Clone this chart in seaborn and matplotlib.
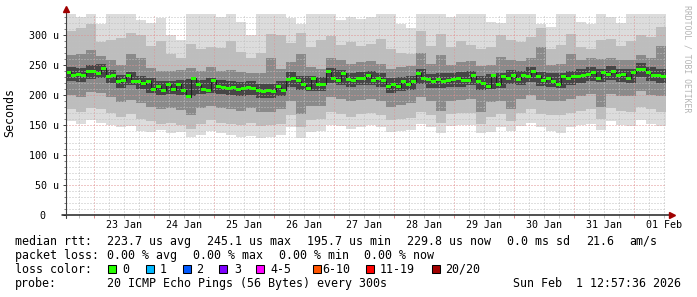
import numpy as np
import pandas as pd
import matplotlib
matplotlib.use("Agg")
import matplotlib.pyplot as plt
import matplotlib.dates as mdates
from matplotlib.patches import Rectangle
from matplotlib.transforms import ScaledTranslation, blended_transform_factory
import seaborn as sns

# ---------------- data ----------------
start_time = "2026-01-22 12:57:36"
end_time = "2026-02-01 12:57:36"
median_step_hours = 2
smoke_step_hours = 4

# median rtt (microseconds), one value per 2 h
median_us = [
    238, 233, 234, 233, 239, 239, 236, 245, 231, 232,
    222, 225, 233, 222, 223, 219, 223, 210, 215, 208,
    217, 209, 218, 208, 197, 228, 217, 209, 208, 225,
    214, 213, 211, 212, 209, 211, 213, 211, 208, 206,
    208, 206, 214, 208, 226, 228, 224, 217, 211, 228,
    218, 218, 239, 228, 224, 236, 226, 225, 228, 228,
    233, 225, 228, 224, 214, 218, 214, 222, 218, 223,
    236, 228, 226, 223, 226, 223, 224, 226, 228, 225,
    225, 232, 222, 219, 214, 232, 218, 231, 228, 233,
    226, 233, 231, 239, 231, 224, 228, 222, 218, 231,
    228, 231, 231, 233, 235, 237, 228, 238, 235, 239,
    232, 235, 228, 237, 243, 243, 237, 233, 233, 231,
]

# smoke bands (microseconds), one value per 4 h; 1 = outermost/lightest
smoke_hi1 = [336, 330, 336, 318, 336, 336, 336, 325, 320, 328, 300, 292, 336, 336, 336,
             330, 336, 322, 300, 336, 336, 336, 328, 318, 336, 336, 336, 325, 330, 326,
             330, 336, 336, 318, 312, 336, 336, 336, 330, 336, 336, 336, 322, 320, 336,
             336, 336, 318, 314, 336, 336, 322, 318, 336, 330, 320, 336, 336, 336, 336]
smoke_hi2 = [306, 312, 318, 288, 292, 295, 304, 300, 282, 290, 268, 262, 285, 276, 280,
             278, 290, 272, 262, 270, 302, 300, 286, 304, 280, 292, 298, 284, 288, 282,
             285, 294, 276, 270, 268, 306, 282, 302, 280, 290, 284, 276, 280, 300, 292,
             288, 296, 312, 276, 284, 302, 280, 276, 292, 294, 282, 290, 300, 296, 314]
smoke_hi3 = [266, 268, 275, 265, 258, 250, 268, 262, 245, 240, 240, 242, 245, 240, 246,
             240, 242, 238, 236, 236, 262, 244, 255, 268, 246, 244, 262, 258, 252, 255,
             256, 252, 244, 246, 248, 270, 252, 266, 250, 255, 256, 248, 250, 264, 258,
             256, 262, 280, 250, 252, 268, 258, 262, 260, 262, 258, 258, 266, 262, 282]
smoke_hi4 = [246, 245, 250, 252, 242, 234, 238, 232, 228, 224, 224, 225, 226, 225, 228,
             225, 223, 222, 224, 219, 219, 223, 238, 232, 231, 230, 245, 241, 236, 239,
             240, 237, 228, 230, 232, 243, 235, 236, 236, 238, 240, 232, 235, 236, 241,
             240, 246, 238, 236, 236, 240, 243, 247, 244, 248, 244, 244, 253, 246, 243]
smoke_lo4 = [224, 222, 227, 228, 220, 212, 216, 210, 204, 200, 201, 200, 198, 201, 204,
             201, 200, 198, 200, 195, 195, 199, 214, 208, 207, 206, 220, 217, 213, 216,
             217, 214, 204, 206, 208, 219, 212, 212, 213, 214, 216, 208, 210, 212, 218,
             217, 222, 215, 213, 212, 217, 220, 224, 221, 225, 221, 220, 230, 223, 220]
smoke_lo3 = [200, 196, 205, 204, 196, 188, 192, 186, 180, 176, 178, 175, 166, 178, 182,
             178, 176, 174, 178, 172, 172, 176, 190, 168, 182, 182, 196, 194, 190, 192,
             194, 190, 180, 184, 186, 196, 190, 174, 190, 192, 194, 172, 188, 190, 176,
             194, 200, 192, 190, 190, 194, 198, 202, 180, 202, 198, 198, 206, 200, 198]
smoke_lo2 = [176, 172, 178, 176, 170, 164, 168, 160, 156, 152, 154, 150, 144, 152, 158,
             154, 152, 150, 154, 148, 150, 152, 166, 146, 158, 160, 172, 168, 164, 168,
             170, 166, 158, 160, 162, 172, 166, 154, 168, 170, 170, 152, 164, 168, 156,
             170, 176, 168, 166, 166, 170, 174, 176, 160, 178, 174, 172, 180, 176, 172]
smoke_lo1 = [156, 152, 158, 154, 150, 146, 148, 140, 138, 142, 136, 138, 130, 134, 140,
             136, 134, 130, 132, 128, 130, 134, 146, 128, 138, 140, 150, 148, 144, 146,
             150, 146, 138, 140, 142, 152, 146, 136, 148, 150, 150, 136, 138, 146, 140,
             148, 154, 146, 140, 136, 146, 150, 152, 142, 156, 150, 148, 158, 152, 148]

y_tick_values = [0, 50, 100, 150, 200, 250, 300]
y_tick_labels = ["0", "50 u", "100 u", "150 u", "200 u", "250 u", "300 u"]

rtt_stats = [223.7, 245.1, 195.7, 229.8]        # avg, max, min, now (us)
rtt_sd_ms = 0.0
rtt_ams = 21.6
loss_stats = [0.00, 0.00, 0.00, 0.00]           # avg, max, min, now (%)
loss_labels = ["0", "1", "2", "3", "4-5", "6-10", "11-19", "20/20"]
loss_colors = ["#26ff00", "#00b8ff", "#0059ff", "#7e00ff", "#ff00ff", "#ff5500", "#ff0000", "#a10000"]
probe_text = "20 ICMP Echo Pings (56 Bytes) every 300s"
stamp_text = "Sun Feb  1 12:57:36 2026"

# ---------------- figure ----------------
sns.set_theme(style="white")
plt.rcParams["font.family"] = ["DejaVu Sans Mono", "DejaVu Sans"]

W, H = 697, 297
fig = plt.figure(figsize=(W / 100, H / 100), dpi=100)
fig.patch.set_facecolor("white")
ax = fig.add_axes([66 / W, (H - 215) / H, 600 / W, 201 / H])
ax.set_facecolor("white")

t0 = pd.Timestamp(start_time)
t1 = pd.Timestamp(end_time)
x0 = mdates.date2num(t0)
x1 = mdates.date2num(t1)

# smoke
n_s = len(smoke_hi1)
xs = x0 + np.arange(n_s + 1) * smoke_step_hours / 24.0
def ext(a):
    a = np.asarray(a, float)
    return np.append(a, a[-1])

shades = ["#dcdcdc", "#bdbdbd", "#8a8a8a", "#464646"]
for lo, hi, col in [(smoke_lo1, smoke_hi1, shades[0]),
                    (smoke_lo2, smoke_hi2, shades[1]),
                    (smoke_lo3, smoke_hi3, shades[2]),
                    (smoke_lo4, smoke_hi4, shades[3])]:
    ax.fill_between(xs, ext(lo), ext(hi), step="post", color=col, lw=0, zorder=1)

# median
n_m = len(median_us)
xm = x0 + np.arange(n_m + 1) * median_step_hours / 24.0
med = ext(median_us)
med_df = pd.DataFrame({"t": xm, "rtt": med})
sns.lineplot(data=med_df, x="t", y="rtt", drawstyle="steps-post", color="#202020",
             lw=0.8, ax=ax, zorder=3, estimator=None)
ax.fill_between(xm, med - 2.5, med + 2.5, step="post", color=loss_colors[0], lw=0, zorder=4)

ax.set_xlim(x0, x1)
ax.set_ylim(0, 335)
ax.set_xlabel("")
ax.set_ylabel("")

# grid
midnights = pd.date_range("2026-01-23", "2026-02-01", freq="D")
six_h = pd.date_range("2026-01-22 18:00", "2026-02-01 12:00", freq="6h")
six_h = six_h[six_h.hour != 0]
ax.set_xticks(mdates.date2num(midnights))
ax.set_xticks(mdates.date2num(six_h), minor=True)
ax.set_xticklabels([])
ax.set_yticks(y_tick_values)
ax.set_yticklabels(y_tick_labels)
y_minor = [v for v in range(10, 336, 10) if v % 50 != 0]
ax.set_yticks(y_minor, minor=True)
ax.set_axisbelow(False)
ax.grid(which="minor", color="#c0c0c0", linestyle=(0, (1, 2)), lw=0.72)
ax.grid(which="major", color="#e09090", linestyle=(0, (1, 2)), lw=0.72)

ax.tick_params(axis="y", which="major", length=2.2, width=0.72, color="#404040",
               pad=2.9, labelsize=7.2, labelcolor="black", left=True)
ax.tick_params(axis="y", which="minor", length=1.4, width=0.72, color="#808080", left=True)
ax.tick_params(axis="x", which="major", length=2.2, width=0.72, color="#e09090", bottom=True)
ax.tick_params(axis="x", which="minor", length=2.2, width=0.72, color="#c0c0c0", bottom=True)

# shift the "0" label so its digit aligns with the others' numbers
lab0 = ax.yaxis.get_major_ticks()[0].label1
lab0.set_transform(lab0.get_transform() + ScaledTranslation(-14 / 100, 0, fig.dpi_scale_trans))

for s in ax.spines.values():
    s.set_visible(False)

# axes with arrows
ax.plot([-4 / 600, 1 + 6 / 600], [0, 0], transform=ax.transAxes, color="#202020",
        lw=1.1, clip_on=False, zorder=6)
ax.plot([0, 0], [-3 / 201, 1 + 5 / 201], transform=ax.transAxes, color="#404040",
        lw=0.8, clip_on=False, zorder=6)
ax.plot([1 + 6 / 600], [0], transform=ax.transAxes, marker=">", ms=4.5, color="#a00000",
        clip_on=False, zorder=7)
ax.plot([0], [1 + 5 / 201], transform=ax.transAxes, marker="^", ms=4.5, color="#a00000",
        clip_on=False, zorder=7)

# day labels at noon
trans = blended_transform_factory(ax.transData, fig.transFigure)
for d in midnights:
    noon = d + pd.Timedelta(hours=12)
    ax.text(mdates.date2num(noon), 1 - 228.5 / H, noon.strftime("%d %b"), transform=trans,
            ha="center", va="baseline", fontsize=7.2, color="black")

# side texts
fig.text(10 / W, 1 - 113 / H, "Seconds", rotation=90, ha="center", va="center",
         fontsize=8.4, color="black")
fig.text(686.5 / W, 1 - 59 / H, "RRDTOOL / TOBI OETIKER", rotation=270, ha="center",
         va="center", fontsize=5.9, color="#b4b4b4")

# legend
fs = 8.4
def put(x, y, s):
    fig.text((x - 0.7) / W, 1 - y / H, s, ha="left", va="baseline", fontsize=fs, color="black")

b1, b2, b3, b4 = 245, 259, 273, 287
put(16, b1, "median rtt:")
for x, v, tag in zip([107.3, 207.3, 307.3, 407.3], rtt_stats, ["avg", "max", "min", "now"]):
    put(x, b1, f"{v:.1f} us {tag}")
put(507.3, b1, f"{rtt_sd_ms:.1f} ms sd")
put(587.3, b1, f"{rtt_ams:.1f}")
put(630, b1, "am/s")

put(16, b2, "packet loss:")
for x, v, tag in zip([107.3, 193.3, 279.3, 365.0], loss_stats, ["avg", "max", "min", "now"]):
    put(x, b2, f"{v:.2f} % {tag}")

put(16, b3, "loss color:")
box_x = [108.3, 145.7, 182.7, 219.3, 256.0, 312.7, 365.5, 431.5]
lab_x = [123.3, 160.7, 197.3, 235.0, 270.7, 322.7, 380.0, 446.0]
for bx, lx, lab, col in zip(box_x, lab_x, loss_labels, loss_colors):
    fig.patches.append(Rectangle((bx / W, 1 - 272.7 / H), 8 / W, 8 / H,
                                 transform=fig.transFigure, facecolor=col,
                                 edgecolor="black", lw=0.75, figure=fig))
    put(lx, b3, lab)

put(16, b4, "probe:")
put(107.3, b4, probe_text)
put(513.3, b4, stamp_text)

fig.savefig("out.png", dpi=100, facecolor="white")
